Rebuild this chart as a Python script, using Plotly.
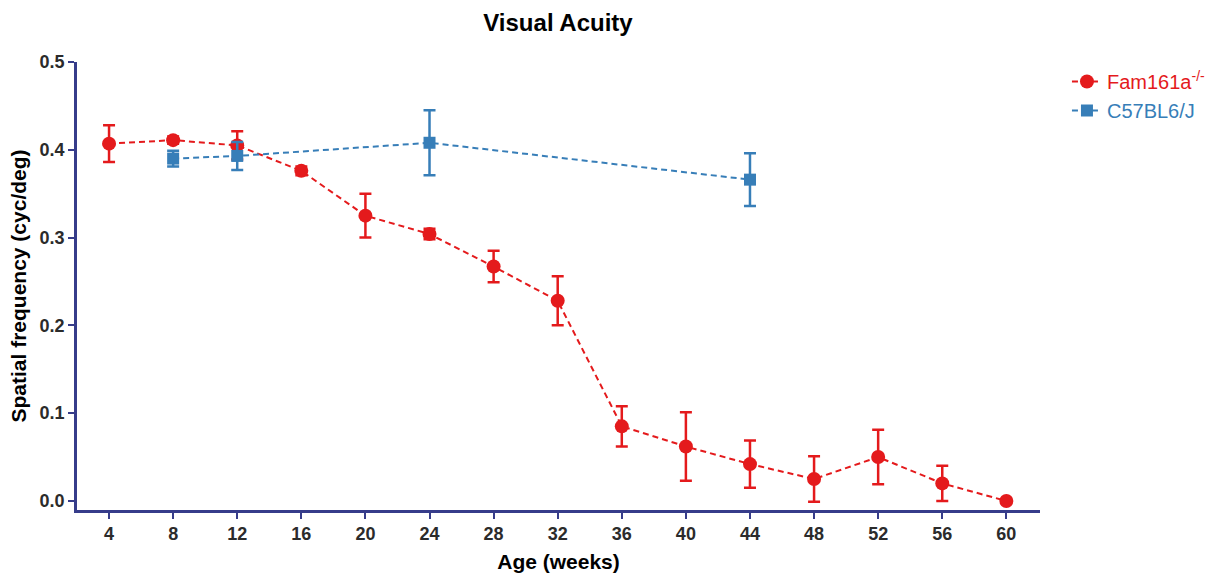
import plotly.graph_objects as go

weeks_fam = [4, 8, 12, 16, 20, 24, 28, 32, 36, 40, 44, 48, 52, 56, 60]
fam_vals = [0.407, 0.411, 0.405, 0.376, 0.325, 0.304, 0.267, 0.228, 0.085, 0.062, 0.042, 0.025, 0.050, 0.020, 0.0]
fam_err = [0.021, 0.004, 0.016, 0.005, 0.025, 0.006, 0.018, 0.028, 0.023, 0.039, 0.027, 0.026, 0.031, 0.020, 0.0]

weeks_wt = [8, 12, 24, 44]
wt_vals = [0.390, 0.393, 0.408, 0.366]
wt_err = [0.009, 0.016, 0.037, 0.030]

x_ticks = [4, 8, 12, 16, 20, 24, 28, 32, 36, 40, 44, 48, 52, 56, 60]
y_ticks = [0.0, 0.1, 0.2, 0.3, 0.4, 0.5]

RED = "#e41a1c"
BLUE = "#377eb8"
AXIS = "#363c8a"
TXT = "#2b2b2b"
FONT = "Liberation Sans, Arial, sans-serif"

fig = go.Figure()
fig.add_trace(go.Scatter(
    x=weeks_fam, y=fam_vals, mode="lines+markers",
    name="<span style='color:%s'>Fam161a<sup>-/-</sup></span>" % RED,
    line=dict(color=RED, width=2, dash="6px,4px"),
    marker=dict(symbol="circle", size=14, color=RED),
    error_y=dict(type="data", array=fam_err, visible=True, color=RED, thickness=2.5, width=6),
))
fig.add_trace(go.Scatter(
    x=weeks_wt, y=wt_vals, mode="lines+markers",
    name="<span style='color:%s'>C57BL6/J</span>" % BLUE,
    line=dict(color=BLUE, width=2, dash="6px,4px"),
    marker=dict(symbol="square", size=12, color=BLUE),
    error_y=dict(type="data", array=wt_err, visible=True, color=BLUE, thickness=2.5, width=6),
))

fig.update_layout(
    width=1225, height=573,
    margin=dict(l=77, r=185, t=62, b=63, autoexpand=False),
    paper_bgcolor="white", plot_bgcolor="white",
    font=dict(family=FONT, color=TXT),
    title=dict(text="<b>Visual Acuity</b>", x=0.4555, xanchor="center", y=0.96, yanchor="middle",
               font=dict(size=24, color="black", family=FONT)),
    legend=dict(x=1.028, y=1.0, xanchor="left", yanchor="top", font=dict(size=20, family=FONT),
                bgcolor="rgba(0,0,0,0)", tracegroupgap=0),
    showlegend=True,
)
fig.update_xaxes(
    range=[2, 62.1], tickvals=x_ticks, ticktext=[str(v) for v in x_ticks],
    showline=True, linecolor=AXIS, linewidth=2.5, ticks="outside", tickcolor=AXIS,
    ticklen=6, tickwidth=2, showgrid=False, zeroline=False, automargin=False,
    tickfont=dict(size=18, color=TXT, family=FONT, weight="bold"),
    title=dict(text="<b>Age (weeks)</b>", font=dict(size=21, color="black", family=FONT)),
)
fig.update_yaxes(
    range=[-0.0103, 0.5], tickvals=y_ticks, ticktext=["%.1f" % v for v in y_ticks],
    showline=True, linecolor=AXIS, linewidth=2.5, ticks="outside", tickcolor=AXIS,
    ticklen=6, tickwidth=2, showgrid=False, zeroline=False, automargin=False,
    tickfont=dict(size=18, color=TXT, family=FONT, weight="bold"),
    title=dict(text="<b>Spatial frequency (cyc/deg)</b>", font=dict(size=21, color="black", family=FONT),
               standoff=8),
)
fig.write_html("out.html", config={"displayModeBar": False},
               post_script="document.body.style.margin='0';document.body.style.padding='0';")
